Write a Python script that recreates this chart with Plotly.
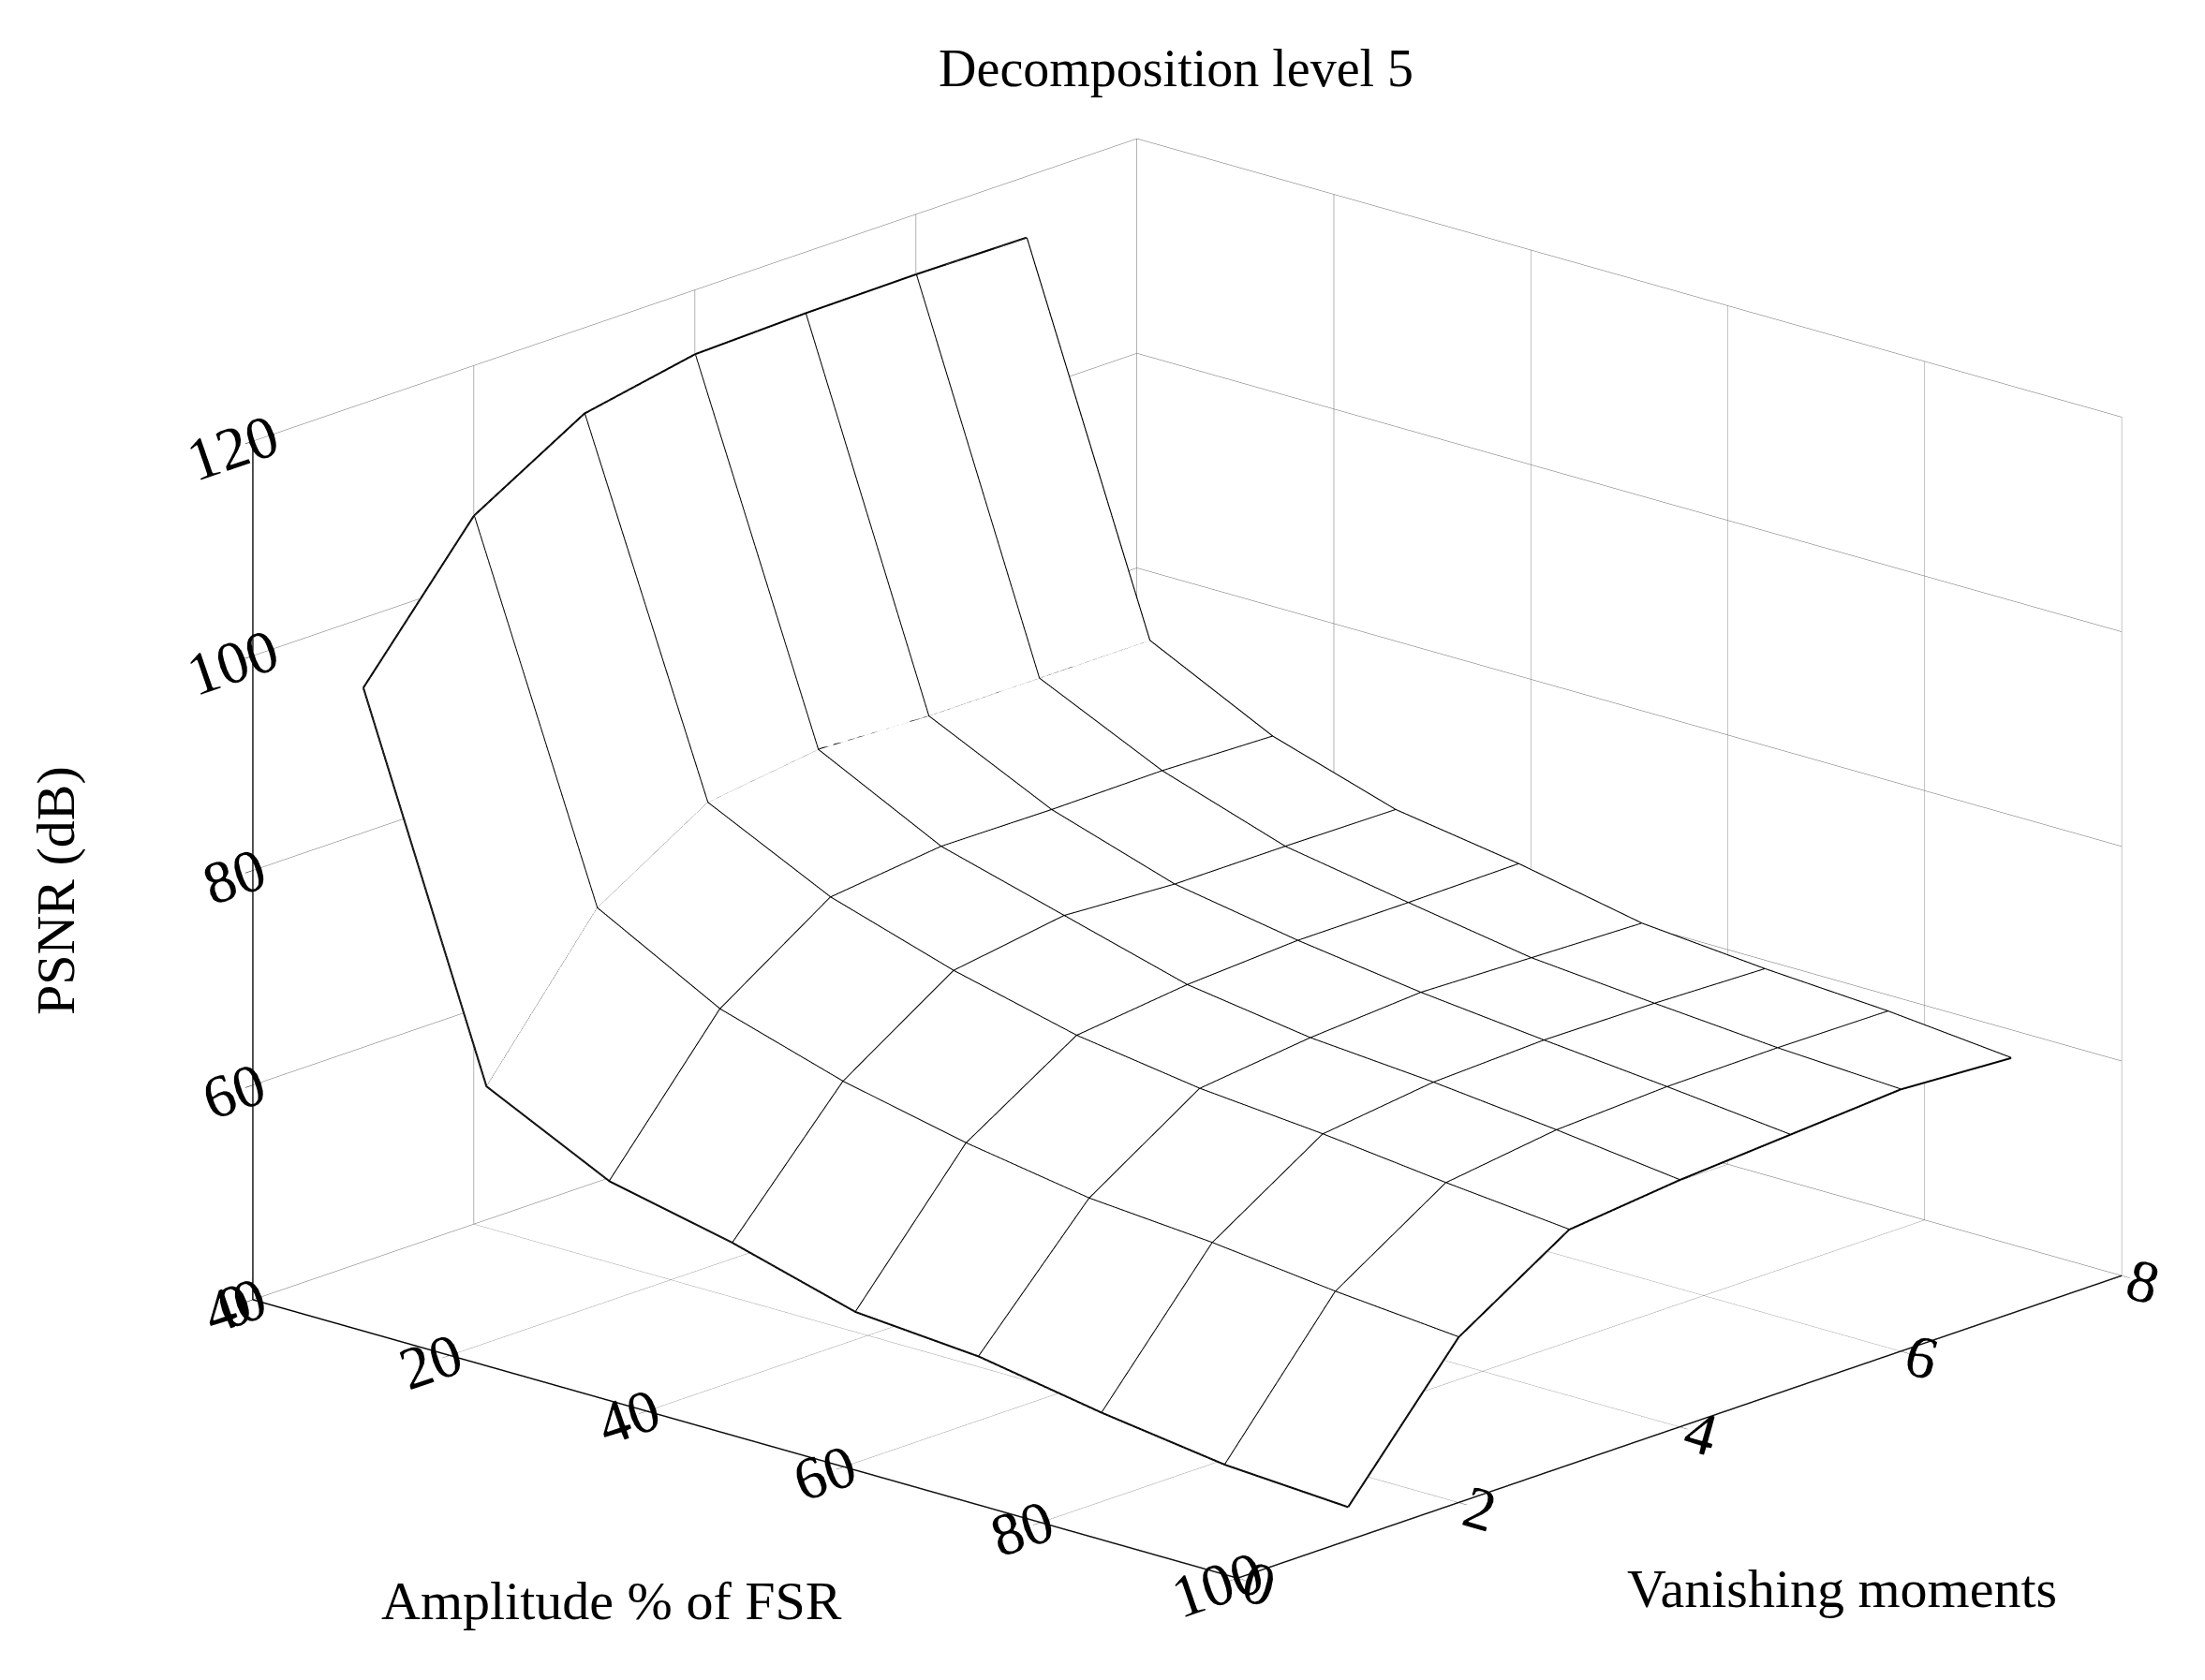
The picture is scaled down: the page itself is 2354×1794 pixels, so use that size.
import plotly.graph_objects as go

amplitude = [0, 12.5, 25, 37.5, 50, 62.5, 75, 87.5, 100]
vanishing = [1, 2, 3, 4, 5, 6, 7]

# PSNR (dB): one row per amplitude, one column per vanishing moment
psnr = [
    [93.5, 106.0, 112.0, 114.0, 114.3, 114.4, 114.3],
    [59.6, 72.7, 79.0, 80.4, 80.0, 80.0, 80.0],
    [54.0, 66.5, 73.4, 74.6, 74.5, 74.6, 74.3],
    [51.5, 63.0, 69.8, 71.4, 70.8, 70.8, 70.7],
    [48.3, 60.5, 67.0, 68.2, 68.8, 68.8, 68.9],
    [47.4, 58.6, 65.3, 66.5, 67.2, 66.9, 66.6],
    [45.4, 57.7, 64.3, 65.6, 66.0, 65.9, 65.6],
    [43.8, 56.4, 63.0, 64.4, 64.9, 65.0, 64.9],
    [43.1, 55.4, 61.9, 63.0, 63.7, 64.4, 63.8],
]

font = "Liberation Serif"

# surface wants z[row=y][col=x]; x is amplitude, y is vanishing moments
zt = [[psnr[i][j] for i in range(len(amplitude))] for j in range(len(vanishing))]

fig = go.Figure()
fig.add_trace(go.Surface(
    x=amplitude, y=vanishing, z=zt,
    colorscale=[[0, "white"], [1, "white"]], showscale=False,
    lighting=dict(ambient=1, diffuse=0, specular=0, fresnel=0),
    hoverinfo="skip",
))

# mesh lines
lx, ly, lz = [], [], []
for i, a in enumerate(amplitude):
    for j, v in enumerate(vanishing):
        lx.append(a); ly.append(v); lz.append(psnr[i][j])
    lx.append(None); ly.append(None); lz.append(None)
for j, v in enumerate(vanishing):
    for i, a in enumerate(amplitude):
        lx.append(a); ly.append(v); lz.append(psnr[i][j])
    lx.append(None); ly.append(None); lz.append(None)
fig.add_trace(go.Scatter3d(x=lx, y=ly, z=lz, mode="lines",
                           line=dict(color="black", width=4), hoverinfo="skip"))

ax = dict(showbackground=False, gridcolor="#666666", gridwidth=1,
          showline=True, linecolor="black", linewidth=3,
          ticks="outside", tickcolor="black", ticklen=12,
          tickfont=dict(family=font, size=28, color="black"),
          showspikes=False, zeroline=False, title=dict(text=""))

label_font = dict(family=font, size=58, color="black")

fig.update_layout(
    width=2354, height=1794,
    paper_bgcolor="white",
    showlegend=False,
    font=dict(family=font, color="black"),
    title=dict(text="Decomposition level 5", x=0.53, y=0.975, xanchor="center",
               font=dict(family=font, size=56, color="black")),
    margin=dict(l=0, r=0, t=40, b=0),
    scene=dict(
        domain=dict(x=[0.07, 1.0], y=[0, 1]),
        xaxis=dict(ax, range=[0, 100], tickvals=[0, 20, 40, 60, 80, 100]),
        yaxis=dict(ax, range=[0, 8], tickvals=[0, 2, 4, 6, 8]),
        zaxis=dict(ax, range=[40, 120], tickvals=[40, 60, 80, 100, 120]),
        aspectmode="manual",
        aspectratio=dict(x=1.62, y=1.6, z=1.1),
        camera=dict(eye=dict(x=1.5, y=-1.65, z=0.72),
                    center=dict(x=0.0, y=0, z=-0.01),
                    projection=dict(type="orthographic")),
    ),
    annotations=[
        dict(text="Amplitude % of FSR", x=0.274, y=0.053, xref="paper", yref="paper",
             xanchor="center", yanchor="middle", showarrow=False, font=label_font),
        dict(text="Vanishing moments", x=0.832, y=0.06, xref="paper", yref="paper",
             xanchor="center", yanchor="middle", showarrow=False, font=label_font),
        dict(text="PSNR (dB)", x=0.022, y=0.485, xref="paper", yref="paper",
             xanchor="center", yanchor="middle", showarrow=False, textangle=-90,
             font=label_font),
    ],
)

fig.write_html("out.html")
